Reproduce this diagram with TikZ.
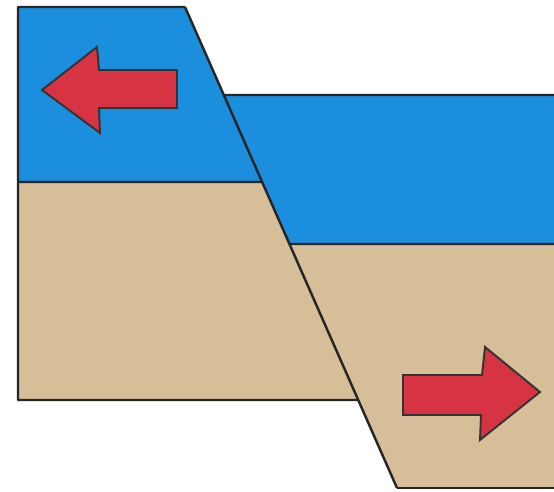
\documentclass[tikz,border=0pt]{standalone}
\usetikzlibrary{calc}
\definecolor{sea}{RGB}{28,142,222}
\definecolor{sand}{RGB}{214,190,152}
\definecolor{arrowred}{RGB}{214,52,66}
\tikzset{
  edge/.style={line width=1.4pt, line join=round, color=black!85},
  movearrow/.style={fill=arrowred, draw=black!80, line width=1.1pt, line join=miter}
}
\begin{document}
\begin{tikzpicture}[x=0.02cm, y=-0.02cm]
\useasboundingbox (0,0) rectangle (554,492);
\fill[white] (0,0) rectangle (554,492);

% fault plane: (185,7) -> (397,488)
\coordinate (ftop) at (185,7);
\coordinate (fbot) at (397,488);
\coordinate (fa) at ($(ftop)!{(95-7)/481}!(fbot)$);   % right block top
\coordinate (fb) at ($(ftop)!{(182-7)/481}!(fbot)$);  % left layer boundary
\coordinate (fc) at ($(ftop)!{(244-7)/481}!(fbot)$);  % right layer boundary
\coordinate (fd) at ($(ftop)!{(400-7)/481}!(fbot)$);  % left block base

% left block (upthrown side)
\fill[sea]  (18,7) -- (ftop) -- (fb) -- (18,182) -- cycle;
\fill[sand] (18,182) -- (fb) -- (fd) -- (18,400) -- cycle;
\draw[edge] (18,182) -- (fb);
\draw[edge] (ftop) -- (18,7) -- (18,400) -- (fd);

% right block (downthrown side)
\fill[sea]  (fa) -- (554,95) -- (554,244) -- (fc) -- cycle;
\fill[sand] (fc) -- (554,244) -- (554,488) -- (fbot) -- cycle;
\draw[edge] (fa) -- (554,95);
\draw[edge] (fc) -- (554,244);
\draw[edge] (fbot) -- (554,488);

% fault line
\draw[edge] (ftop) -- (fbot);

% motion arrows
\draw[movearrow] (42,90) -- (97,47) -- (99,70) -- (177,70) -- (177,108)
  -- (99,108) -- (100,133) -- cycle;
\draw[movearrow] (540,392) -- (485,347) -- (482,375) -- (403,375) -- (403,415)
  -- (481,415) -- (480,440) -- cycle;
\end{tikzpicture}
\end{document}
